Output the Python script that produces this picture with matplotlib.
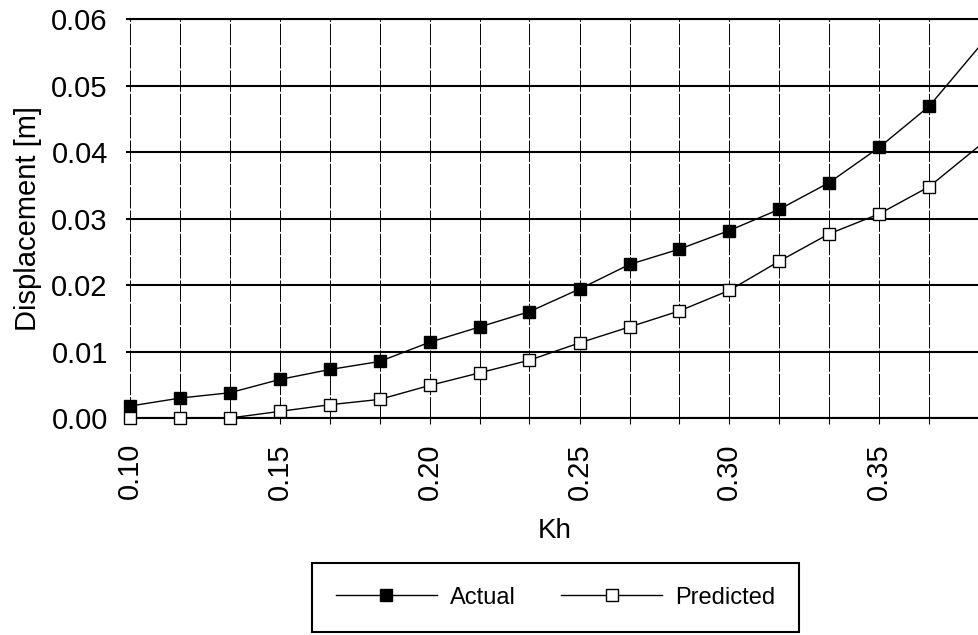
import matplotlib
matplotlib.use("Agg")
import matplotlib.pyplot as plt
from matplotlib.patches import Rectangle

plt.rcParams['font.family'] = ['Liberation Sans', 'DejaVu Sans']

# Kh values (grid spacing 1/60)
kh = [0.1000, 0.1167, 0.1333, 0.1500, 0.1667, 0.1833, 0.2000, 0.2167, 0.2333,
      0.2500, 0.2667, 0.2833, 0.3000, 0.3167, 0.3333, 0.3500, 0.3667, 0.3833]
actual = [0.0018, 0.0030, 0.0038, 0.0058, 0.0073, 0.0085, 0.0114, 0.0137, 0.0160,
          0.0194, 0.0231, 0.0254, 0.0282, 0.0314, 0.0354, 0.0407, 0.0469, 0.0558]
predicted = [0.0000, 0.0000, 0.0000, 0.0010, 0.0020, 0.0028, 0.0049, 0.0068, 0.0087,
             0.0113, 0.0137, 0.0161, 0.0192, 0.0236, 0.0277, 0.0307, 0.0348, 0.0409]
x_labels = ['0.10', '', '', '0.15', '', '', '0.20', '', '', '0.25', '', '',
            '0.30', '', '', '0.35', '', '']
y_ticks = [0.00, 0.01, 0.02, 0.03, 0.04, 0.05, 0.06]

fig = plt.figure(figsize=(9.79, 6.35), dpi=100)
ax = fig.add_axes([0.1328, 0.3417, 0.8672, 0.6283])

# last point sits just past the cut-off right edge, so only its line shows
shown = list(range(len(kh) - 1))
l1, = ax.plot(kh, actual, color='black', linewidth=1.0, marker='s', markersize=8.5,
              markerfacecolor='black', markeredgecolor='black', label='Actual',
              zorder=3, markevery=shown)
l2, = ax.plot(kh, predicted, color='black', linewidth=1.0, marker='s', markersize=8.5,
              markerfacecolor='white', markeredgecolor='black', markeredgewidth=1.0,
              label='Predicted', zorder=3, markevery=shown)
# let edge markers show whole at the bottom/left
clip = Rectangle((-0.03, -0.05), 1.03, 1.1, transform=ax.transAxes)
for ln in (l1, l2):
    ln.set_clip_path(clip)

ax.set_xlim(0.1, 0.3811)
ax.set_ylim(0, 0.06)

ax.set_xticks(kh)
ax.set_xticklabels(x_labels, rotation=90)
ax.set_yticks(y_ticks)
ax.set_yticklabels([f'{v:.2f}' for v in y_ticks])
ax.tick_params(axis='x', labelsize=21, length=4, width=0.8, pad=14)
ax.tick_params(axis='y', labelsize=21, length=3, width=1.5, pad=13)

# grid: heavy horizontal, thin broken vertical
ax.grid(axis='y', color='black', linewidth=1.5)
ax.grid(axis='x', color='black', linewidth=0.7, linestyle=(0, (22, 2)))
ax.set_axisbelow(True)

for s in ['left', 'right']:
    ax.spines[s].set_visible(False)
for s in ['top', 'bottom']:
    ax.spines[s].set_linewidth(1.5)

ax.set_xlabel('Kh', fontsize=20)
ax.xaxis.set_label_coords(0.5, -0.2506)
ax.set_ylabel('Displacement [m]', fontsize=21)
ax.yaxis.set_label_coords(-0.104, 0.5)

leg = fig.legend(loc='center', bbox_to_anchor=(0.5674, 0.059), ncol=2, fontsize=17,
                 frameon=True, fancybox=False, edgecolor='black', framealpha=1,
                 handlelength=4.3, handletextpad=0.55, columnspacing=1.9,
                 borderpad=1.0, borderaxespad=0)
leg.get_frame().set_linewidth(1.5)

fig.savefig('out.png', dpi=100)
